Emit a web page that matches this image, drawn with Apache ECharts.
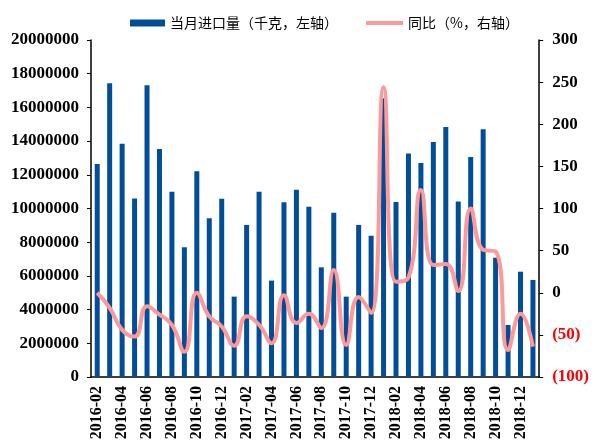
<!DOCTYPE html>
<html><head><meta charset="utf-8">
<script src="https://cdn.jsdelivr.net/npm/echarts@6/dist/echarts.min.js"></script>
<style>html,body{margin:0;padding:0;background:#fff}#c{width:592px;height:443px}</style>
</head><body><div id="c"></div>
<script>
var categories = ["2016-02","2016-03","2016-04","2016-05","2016-06","2016-07","2016-08","2016-09","2016-10","2016-11","2016-12","2017-01",
"2017-02","2017-03","2017-04","2017-05","2017-06","2017-07","2017-08","2017-09","2017-10","2017-11","2017-12","2018-01",
"2018-02","2018-03","2018-04","2018-05","2018-06","2018-07","2018-08","2018-09","2018-10","2018-11","2018-12","2019-01"];
var imports = [12640000,17430000,13850000,10600000,17310000,13530000,11000000,7700000,12210000,9420000,10580000,4770000,
9020000,11000000,5720000,10370000,11120000,10110000,6510000,9750000,4770000,9020000,8390000,16540000,
10390000,13270000,12700000,13950000,14840000,10420000,13060000,14700000,7080000,3090000,6250000,5760000];
var yoy = [0,-18,-44,-52,-16,-26,-38,-70,0,-28,-40,-63,
-28,-38,-60,-3,-36,-25,-42,27,-62,-5,-24,244,
13,18,122,33,34,2,100,51,49,-68,-25,-64];
var nameBar = "当月进口量（千克，左轴）";
var nameLine = "同比（%，右轴）";

var chart = echarts.init(document.getElementById('c'));
var serif = "'Liberation Serif','Times New Roman',serif";
var cjk = "'Noto Sans CJK SC',sans-serif";
chart.setOption({
  animation: false,
  legend: [
    {data:[{name:nameBar}], left:130, top:16, padding:0, icon:'rect', itemWidth:35, itemHeight:7, itemGap:0,
     textStyle:{fontFamily:cjk, fontSize:14, color:'#000'}},
    {data:[{name:nameLine}], left:366, top:16, padding:0, icon:'rect', itemWidth:37, itemHeight:4, itemGap:0,
     textStyle:{fontFamily:cjk, fontSize:14, color:'#000'}}
  ],
  grid:{left:91, right:51, top:40, bottom:66},
  xAxis:{
    type:'category', data:categories, boundaryGap:true,
    axisLine:{lineStyle:{color:'#000', width:1.5}},
    axisTick:{interval:1, length:5, lineStyle:{color:'#000'}},
    axisLabel:{interval:1, rotate:90, margin:9, fontFamily:serif, fontWeight:'bold', fontSize:16, color:'#000'},
    splitLine:{show:false}
  },
  yAxis:[
    {type:'value', min:0, max:20000000, interval:2000000,
     axisLine:{show:true, lineStyle:{color:'#000', width:1.5}},
     axisTick:{show:true, length:4, lineStyle:{color:'#000'}},
     axisLabel:{margin:12, fontFamily:serif, fontWeight:'bold', fontSize:17, color:'#000',
       formatter:function(v){return String(Math.round(v));}},
     splitLine:{show:false}},
    {type:'value', min:-100, max:300, interval:50, position:'right',
     axisLine:{show:true, lineStyle:{color:'#000', width:1.5}},
     axisTick:{show:true, length:4, lineStyle:{color:'#000'}},
     axisLabel:{margin:13, fontFamily:serif, fontWeight:'bold', fontSize:17,
       formatter:function(v){return v<0?'('+Math.abs(v)+')':String(v);},
       color:function(v){return Number(v)<0?'#FF0000':'#000';}},
     splitLine:{show:false}}
  ],
  series:[
    {name:nameBar, type:'bar', data:imports, barWidth:5, yAxisIndex:0,
     itemStyle:{color:'#004E9A'}},
    {name:nameLine, type:'line', data:yoy, yAxisIndex:1, smooth:0.5, symbol:'none',
     lineStyle:{color:'#FF9999', width:4}, itemStyle:{color:'#FF9999'}}
  ]
});
</script></body></html>
